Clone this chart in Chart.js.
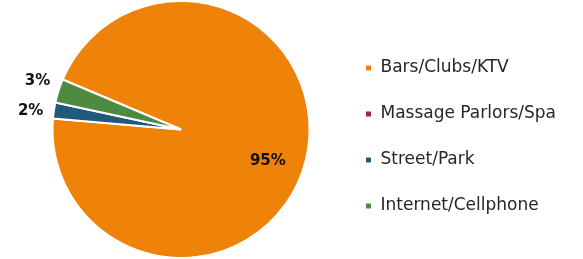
<!DOCTYPE html>
<html>
<head>
<meta charset="utf-8">
<script src="https://cdn.jsdelivr.net/npm/chart.js@4/dist/chart.umd.min.js"></script>
<style>
  html, body { margin: 0; padding: 0; background: #fff; }
  #wrap { width: 583px; height: 259px; position: relative; }
</style>
</head>
<body>
<div id="wrap"><canvas id="pie"></canvas></div>
<script>
// Where victims were recruited, share of cases (pie, Excel-style labels).
const categories = ["Bars/Clubs/KTV", "Massage Parlors/Spa", "Street/Park", "Internet/Cellphone"];
const shares = [95, 0, 2, 3];
const valueLabels = ["95%", "", "2%", "3%"];
const colors = ["#ef8208", "#a3283a", "#21597b", "#4f8a41"];
// Excel spreads the thin-slice labels a little; angle nudge in radians
const labelNudge = [0.11, 0, -0.025, 0.02];

const FONT = "'DejaVu Sans', sans-serif";
const LEGEND_W = 247;
const LEGEND_DROP = 7.5;

// draws the % labels: big slice inside, thin slices just outside the rim
const pctLabels = {
  id: "pctLabels",
  afterDatasetsDraw(chart) {
    const ctx = chart.ctx;
    const arcs = chart.getDatasetMeta(0).data;
    ctx.save();
    ctx.font = "bold 15px " + FONT;
    ctx.fillStyle = "#111";
    ctx.textAlign = "center";
    ctx.textBaseline = "middle";
    arcs.forEach((a, i) => {
      if (!valueLabels[i]) return;
      const ang = (a.startAngle + a.endAngle) / 2 + labelNudge[i];
      const r = shares[i] > 20 ? a.outerRadius * 0.72 : a.outerRadius + 23;
      ctx.fillText(valueLabels[i], a.x + Math.cos(ang) * r, a.y + Math.sin(ang) * r);
    });
    ctx.restore();
  },
};

// pin the legend column width so the pie sits where Excel put it
const fixedLegend = {
  id: "fixedLegend",
  beforeLayout(chart) {
    const lg = chart.legend;
    if (!lg || lg._fixed) return;
    const fit = lg.fit;
    lg.fit = function () {
      fit.call(this);
      this.width = LEGEND_W;
    };
    lg._fixed = true;
  },
  afterLayout(chart) {
    const lg = chart.legend;
    if (!lg) return;
    lg.top += LEGEND_DROP;
    lg.bottom += LEGEND_DROP;
  },
};

new Chart(document.getElementById("pie").getContext("2d"), {
  type: "pie",
  data: {
    labels: categories,
    datasets: [{ data: shares, backgroundColor: colors, borderColor: "#fff", borderWidth: 2 }],
  },
  options: {
    responsive: true,
    maintainAspectRatio: false,
    animation: false,
    rotation: 292.9,
    layout: { padding: { left: 26, top: 0, right: 0, bottom: 0 } },
    plugins: {
      legend: {
        position: "right",
        labels: { color: "#262626", boxWidth: 7, boxHeight: 7, padding: 29, font: { family: FONT, size: 17 } },
      },
      tooltip: { enabled: false },
    },
  },
  plugins: [fixedLegend, pctLabels],
});
</script>
</body>
</html>
